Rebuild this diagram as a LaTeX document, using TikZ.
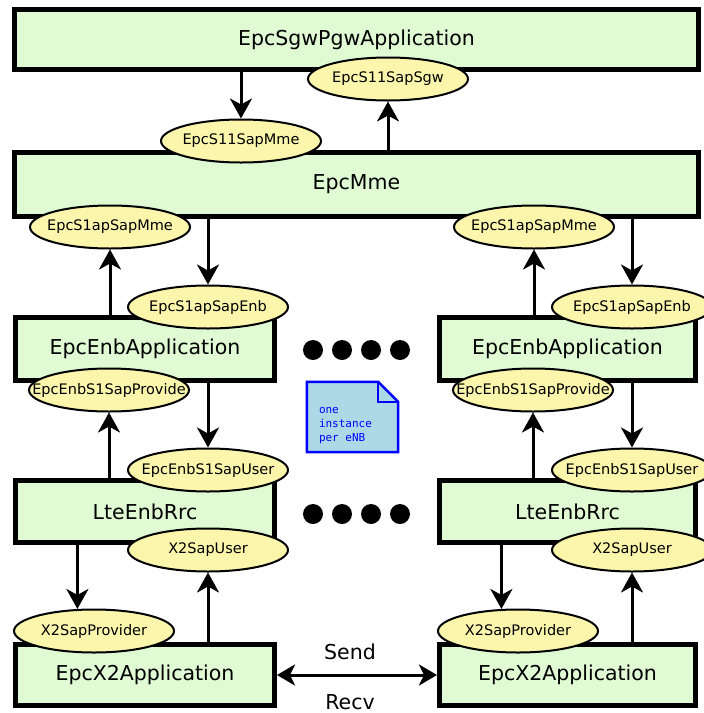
\documentclass[tikz,border=0pt]{standalone}
\usepackage{fontspec}
\setmainfont{DejaVu Sans}
\newfontfamily\notefont{DejaVu Sans Mono}
\usetikzlibrary{arrows.meta,shapes.geometric,calc}
\definecolor{boxgreen}{RGB}{224,250,212}
\definecolor{ellyellow}{RGB}{251,246,172}
\definecolor{notefill}{RGB}{173,216,230}
\newcommand{\ztext}[1]{\makebox[0pt]{#1}}
\tikzset{
  compbox/.style={draw, line width=5pt, fill=boxgreen, inner sep=0pt,
    font=\fontsize{20.5}{24}\selectfont},
  sap/.style={ellipse, draw, line width=2pt, fill=ellyellow, inner sep=0pt,
    minimum width=160pt, minimum height=43pt, font=\fontsize{14.5}{16}\selectfont},
  arr/.style={line width=3pt, -{Stealth[length=20pt, width=22pt, inset=6pt]}},
  biarr/.style={line width=3pt, {Stealth[length=18pt, width=21pt, inset=5pt]}-{Stealth[length=18pt, width=21pt, inset=5pt]}},
  dotmark/.style={circle, fill=black, minimum size=20pt, inner sep=0pt},
  plainlabel/.style={font=\fontsize{20.5}{24}\selectfont, inner sep=0pt},
  noteline/.style={draw=blue, line width=2.5pt, fill=notefill, line join=miter},
}
\begin{document}
\begin{tikzpicture}[x=1pt, y=-1pt]
\useasboundingbox (0,0) rectangle (704,713);
\clip (0,0) rectangle (704,713);

% component boxes
\node[compbox, minimum width=684pt, minimum height=60pt] (top) at (356.5,39.5) {EpcSgwPgwApplication};
\node[compbox, minimum width=684pt, minimum height=64pt] (mme) at (356.5,184.5) {EpcMme};

\node[compbox, minimum width=259pt, minimum height=63pt] (enbL) at (145,349) {EpcEnbApplication};
\node[compbox, minimum width=259pt, minimum height=62pt] (rrcL) at (145,511.5) {LteEnbRrc};
\node[compbox, minimum width=259pt, minimum height=61pt] (x2L) at (145,675) {EpcX2Application};

\node[compbox, minimum width=256pt, minimum height=63pt] (enbR) at (567.5,349) {EpcEnbApplication};
\node[compbox, minimum width=256pt, minimum height=62pt] (rrcR) at (567.5,511.5) {LteEnbRrc};
\node[compbox, minimum width=256pt, minimum height=61pt] (x2R) at (567.5,675) {EpcX2Application};

% SAP ellipses
\node[sap] (s11sgw) at (388,79) {\ztext{EpcS11SapSgw}};
\node[sap] (s11mme) at (241,141) {\ztext{EpcS11SapMme}};

\node[sap] (s1mmeL) at (110,227) {\ztext{EpcS1apSapMme}};
\node[sap] (s1enbL) at (208,307) {\ztext{EpcS1apSapEnb}};
\node[sap] (s1provL) at (109,390) {\ztext{EpcEnbS1SapProvide}};
\node[sap] (s1userL) at (208,470) {\ztext{EpcEnbS1SapUser}};
\node[sap] (x2userL) at (208,550) {\ztext{X2SapUser}};
\node[sap] (x2provL) at (94,631) {\ztext{X2SapProvider}};

\node[sap] (s1mmeR) at (534,227) {\ztext{EpcS1apSapMme}};
\node[sap] (s1enbR) at (632,307) {\ztext{EpcS1apSapEnb}};
\node[sap] (s1provR) at (533,390) {\ztext{EpcEnbS1SapProvide}};
\node[sap] (s1userR) at (632,470) {\ztext{EpcEnbS1SapUser}};
\node[sap] (x2userR) at (632,550) {\ztext{X2SapUser}};
\node[sap] (x2provR) at (518,631) {\ztext{X2SapProvider}};

% arrows
\draw[arr] (s11mme.north |- top.south) -- (s11mme.north);
\draw[arr] (s11sgw.south |- mme.north) -- (s11sgw.south);

\draw[arr] (s1enbL.north |- mme.south) -- (s1enbL.north);
\draw[arr] (s1mmeL.south |- enbL.north) -- (s1mmeL.south);
\draw[arr] (s1userL.north |- enbL.south) -- (s1userL.north);
\draw[arr] (s1provL.south |- rrcL.north) -- (s1provL.south);
\draw[arr] (x2provL.127 |- rrcL.south) -- (x2provL.127);
\draw[arr] (x2userL.south |- x2L.north) -- (x2userL.south);

\draw[arr] (s1enbR.north |- mme.south) -- (s1enbR.north);
\draw[arr] (s1mmeR.south |- enbR.north) -- (s1mmeR.south);
\draw[arr] (s1userR.north |- enbR.south) -- (s1userR.north);
\draw[arr] (s1provR.south |- rrcR.north) -- (s1provR.south);
\draw[arr] (x2provR.127 |- rrcR.south) -- (x2provR.127);
\draw[arr] (x2userR.south |- x2R.north) -- (x2userR.south);

\draw[biarr] (x2L.east) -- (x2R.west);
\node[plainlabel] (send) at (350,652) {Send};
\node[plainlabel] (recv) at (350,702) {Recv};

% dots
\foreach \i/\x in {1/313,2/342,3/371,4/400} {
  \node[dotmark] (dotA\i) at (\x,350) {};
  \node[dotmark] (dotB\i) at (\x,514) {};
}

% note
\node[minimum width=91pt, minimum height=70pt, inner sep=0pt] (note) at (352.5,417) {};
\draw[noteline] (note.north west) -- ([xshift=-20pt]note.north east) -- ([yshift=-20pt]note.north east)
  -- (note.south east) -- (note.south west) -- cycle;
\draw[draw=blue, line width=2.5pt] ([xshift=-20pt]note.north east) |- ([yshift=-20pt]note.north east);
\node[anchor=north west, inner sep=0pt, align=left, text=blue,
  font=\notefont\fontsize{11}{14}\selectfont] (notetext) at ($(note.north west)+(12,25)$)
  {one\\instance\\per eNB};
\end{tikzpicture}
\end{document}
